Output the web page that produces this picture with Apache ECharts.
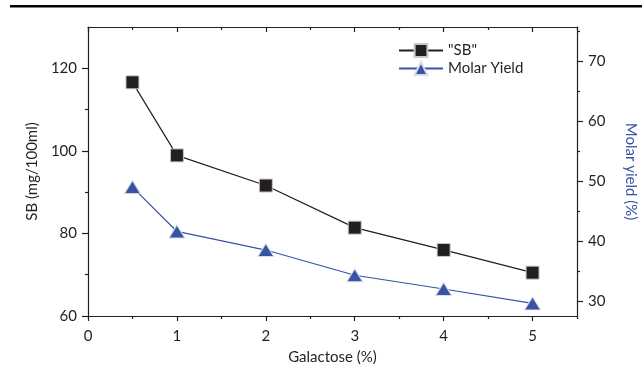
<!DOCTYPE html>
<html>
<head>
<meta charset="utf-8">
<script src="https://cdn.jsdelivr.net/npm/echarts@6/dist/echarts.min.js"></script>
<style>
  html, body { margin:0; padding:0; background:#fff; }
  #chart { width:642px; height:372px; }
</style>
</head>
<body>
<div id="chart"></div>
<script>
// data
const galactose = [0.5, 1, 2, 3, 4, 5];
const sbValues = [116.6, 98.9, 91.6, 81.4, 76.0, 70.5];
const molarYield = [49.0, 41.6, 38.5, 34.3, 32.0, 29.6];

const xMajor = [0, 1, 2, 3, 4, 5];
const xMinor = [0.5, 1.5, 2.5, 3.5, 4.5, 5.5];
const leftMajor = [60, 80, 100, 120];
const leftMinor = [70, 90, 110];
const rightMajor = [30, 40, 50, 60, 70];
const rightMinor = [35, 45, 55, 65, 75];

const ink = '#231f20';
const blue = '#3953a4';
const font = 'Lato, "Open Sans", sans-serif';

function axisBase(extra){
  return Object.assign({
    type:'value',
    splitLine:{ show:false },
    axisLine:{ show:true, onZero:false, lineStyle:{ color:ink, width:1.2 } },
    axisLabel:{ color:ink, fontFamily:font, fontSize:15 },
  }, extra);
}
// overlay axis carrying only the short ticks
function minorAxis(extra, values, inside){
  return axisBase(Object.assign({
    axisLine:{ show:false, onZero:false },
    axisLabel:{ show:false },
    axisTick:{ show:true, inside:!!inside, length:3, customValues:values, lineStyle:{ color:ink, width:1.2 } }
  }, extra));
}

const c = echarts.init(document.getElementById('chart'));
c.setOption({
  animation:false,
  grid:{ left:88, right:65, top:27, bottom:56, containLabel:false, outerBoundsMode:'none' },
  graphic:[{ type:'rect', shape:{ x:10, y:5, width:632, height:2.5 }, style:{ fill:'#000' } }],
  legend:{
    orient:'vertical', left:393, top:38, itemWidth:44, itemHeight:16, itemGap:3,
    textStyle:{ color:ink, fontFamily:font, fontSize:15 },
    data:['"SB"', 'Molar Yield']
  },
  xAxis:[
    axisBase({ min:0, max:5.5, position:'bottom', name:'Galactose (%)', nameLocation:'middle', nameGap:34,
      nameTextStyle:{ color:ink, fontFamily:font, fontSize:15 },
      axisTick:{ show:true, length:5, customValues:xMajor, lineStyle:{ color:ink, width:1.2 } },
      axisLabel:{ color:ink, fontFamily:font, fontSize:15, margin:13, customValues:xMajor } }),
    minorAxis({ min:0, max:5.5, position:'bottom' }, xMinor),
    axisBase({ min:0, max:5.5, position:'top',
      axisTick:{ show:true, inside:true, length:5, customValues:xMajor, lineStyle:{ color:ink, width:1.2 } },
      axisLabel:{ show:false } }),
    minorAxis({ min:0, max:5.5, position:'top' }, xMinor, true)
  ],
  yAxis:[
    axisBase({ min:60, max:130, position:'left', name:'SB (mg/100ml)', nameLocation:'middle', nameGap:46,
      nameTextStyle:{ color:ink, fontFamily:font, fontSize:15 },
      axisTick:{ show:true, length:6, customValues:leftMajor, lineStyle:{ color:ink, width:1.2 } },
      axisLabel:{ color:ink, fontFamily:font, fontSize:15, margin:11, customValues:leftMajor } }),
    axisBase({ min:27.5, max:75.7, position:'right', name:'Molar yield (%)', nameLocation:'middle', nameGap:46, nameRotate:-90,
      nameTextStyle:{ color:blue, fontFamily:font, fontSize:15 },
      axisTick:{ show:true, length:6, customValues:rightMajor, lineStyle:{ color:ink, width:1.2 } },
      axisLabel:{ color:ink, fontFamily:font, fontSize:15, margin:11, customValues:rightMajor } }),
    minorAxis({ min:60, max:130, position:'left' }, leftMinor),
    minorAxis({ min:27.5, max:75.7, position:'right' }, rightMinor)
  ],
  series:[
    {
      name:'"SB"', type:'line', xAxisIndex:0, yAxisIndex:0,
      data: galactose.map((x, i) => [x, sbValues[i]]),
      symbol:'rect', symbolSize:13,
      lineStyle:{ color:ink, width:1.2 },
      itemStyle:{ color:ink, borderColor:'#c8c8c8', borderWidth:1 },
      z:3
    },
    {
      name:'Molar Yield', type:'line', xAxisIndex:0, yAxisIndex:1,
      data: galactose.map((x, i) => [x, molarYield[i]]),
      symbol:'triangle', symbolSize:[16,13],
      lineStyle:{ color:blue, width:1.2 },
      itemStyle:{ color:blue, borderColor:'#d8dcec', borderWidth:1 },
      z:3
    }
  ]
});
</script>
</body>
</html>
